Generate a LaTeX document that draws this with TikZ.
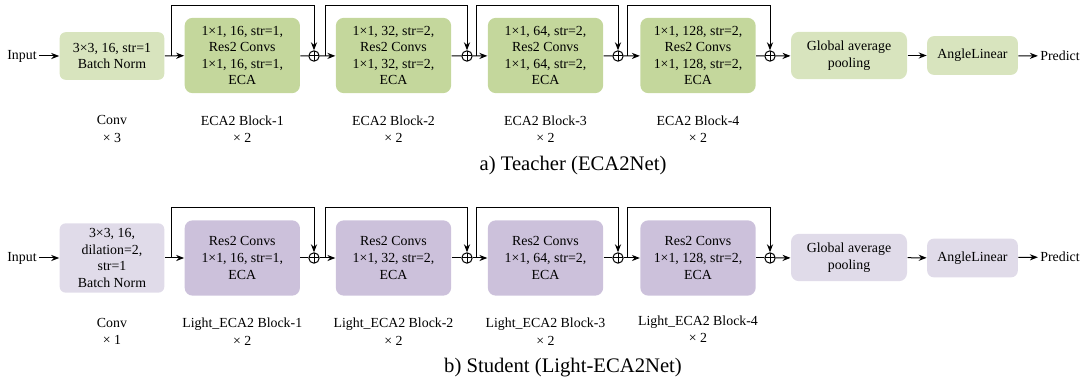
\documentclass[tikz,border=0pt]{standalone}
\usepackage{fontspec}
\setmainfont{Liberation Serif}
\usetikzlibrary{positioning,arrows.meta}

\definecolor{greenlight}{HTML}{D8E4BE}
\definecolor{greendark}{HTML}{C4D79C}
\definecolor{purplelight}{HTML}{E0DBE9}
\definecolor{purpledark}{HTML}{CCC1DB}

\begin{document}
\begin{tikzpicture}[x=0.75pt,y=-0.75pt,>={Stealth[length=6pt,width=4.6pt]},line width=0.75pt,
  txt/.style={font=\fontsize{10.4}{12.4}\selectfont, align=center, inner sep=0pt},
  io/.style={txt, inner sep=1.5pt},
  conv/.style={txt, rounded corners=4.5pt, minimum width=78.5pt},
  block/.style={txt, rounded corners=6pt, minimum width=86.5pt, minimum height=56.5pt},
  gap/.style={txt, rounded corners=6pt, minimum width=87pt, minimum height=35.5pt},
  angle/.style={txt, rounded corners=5pt, minimum width=68pt, minimum height=29pt},
  lbl/.style={font=\fontsize{10.4}{13.2}\selectfont, align=center, inner sep=0pt},
  caption/.style={font=\fontsize{15.5}{18}\selectfont, inner sep=0pt},
  sumnode/.style={circle, draw, inner sep=0pt, minimum size=7.8pt,
    path picture={\draw (path picture bounding box.north) -- (path picture bounding box.south)
      (path picture bounding box.west) -- (path picture bounding box.east);}}]
\useasboundingbox (0,0) rectangle (1083,381);

% teacher
\node (tin) [io] at (22,56) {Input};
\node (tconv) [conv, fill=greenlight, minimum height=35.7pt] at (112,56) {3×3, 16, str=1\\Batch Norm};
\node (tb1) [block, fill=greendark] at (242.3,55.5) {1×1, 16, str=1,\\Res2 Convs\\1×1, 16, str=1,\\ECA};
\node (tb2) [block, fill=greendark] at (393.5,55.5) {1×1, 32, str=2,\\Res2 Convs\\1×1, 32, str=2,\\ECA};
\node (tb3) [block, fill=greendark] at (545.5,55.5) {1×1, 64, str=2,\\Res2 Convs\\1×1, 64, str=2,\\ECA};
\node (tb4) [block, fill=greendark] at (698,55.5) {1×1, 128, str=2,\\Res2 Convs\\1×1, 128, str=2,\\ECA};
\node (tgap) [gap, fill=greenlight] at (849,55.5) {Global average\\pooling};
\node (tang) [angle, fill=greenlight] at (972.5,55.5) {AngleLinear};
\node (tout) [io] at (1060,56) {Predict};
\node (tp1) [sumnode] at (314,56) {};
\node (tp2) [sumnode] at (467,56) {};
\node (tp3) [sumnode] at (618,56) {};
\node (tp4) [sumnode] at (770,56) {};
\coordinate (ts1) at (171,56);
\coordinate (ts2) at (325,56);
\coordinate (ts3) at (476,56);
\coordinate (ts4) at (627,56);
\coordinate (tt1) at (171,6);
\coordinate (tt2) at (325,6);
\coordinate (tt3) at (476,6);
\coordinate (tt4) at (627,6);

\draw[->] (tin) -- (tconv);
\draw[->] (tconv) -- (tb1);
\draw (tb1) -- (tp1);
\draw[->] (tp1) -- (tb2);
\draw (tb2) -- (tp2);
\draw[->] (tp2) -- (tb3);
\draw (tb3) -- (tp3);
\draw[->] (tp3) -- (tb4);
\draw (tb4) -- (tp4);
\draw[->] (tp4) -- (tgap);
\draw[->] (tgap) -- (tang);
\draw[->] (tang) -- (tout);
\draw[->] (ts1) -- (tt1) -| (tp1.north);
\draw[->] (ts2) -- (tt2) -| (tp2.north);
\draw[->] (ts3) -- (tt3) -| (tp3.north);
\draw[->] (ts4) -- (tt4) -| (tp4.north);

\node (tl0) [lbl] at (112,129) {Conv\\× 3};
\node (tl1) [lbl] at (242.3,129) {ECA2 Block-1\\× 2};
\node (tl2) [lbl] at (393.5,129) {ECA2 Block-2\\× 2};
\node (tl3) [lbl] at (545.5,129) {ECA2 Block-3\\× 2};
\node (tl4) [lbl] at (698,129) {ECA2 Block-4\\× 2};
\node (tcap) [caption] at (573,166) {a) Teacher (ECA2Net)};

% student
\node (sin) [io] at (22,258) {Input};
\node (sconv) [conv, fill=purplelight, minimum height=52pt] at (112,258) {3×3, 16,\\dilation=2,\\str=1\\Batch Norm};
\node (sb1) [block, fill=purpledark] at (242.3,258) {Res2 Convs\\1×1, 16, str=1,\\ECA};
\node (sb2) [block, fill=purpledark] at (393.5,258) {Res2 Convs\\1×1, 32, str=2,\\ECA};
\node (sb3) [block, fill=purpledark] at (545.5,258) {Res2 Convs\\1×1, 64, str=2,\\ECA};
\node (sb4) [block, fill=purpledark] at (698,258) {Res2 Convs\\1×1, 128, str=2,\\ECA};
\node (sgap) [gap, fill=purplelight] at (849,257.5) {Global average\\pooling};
\node (sang) [angle, fill=purplelight] at (972.5,258) {AngleLinear};
\node (sout) [io] at (1060,257) {Predict};
\node (sp1) [sumnode] at (314,258) {};
\node (sp2) [sumnode] at (467,258) {};
\node (sp3) [sumnode] at (618,258) {};
\node (sp4) [sumnode] at (770,258) {};
\coordinate (ss1) at (171,258);
\coordinate (ss2) at (325,258);
\coordinate (ss3) at (476,258);
\coordinate (ss4) at (627,258);
\coordinate (st1) at (171,208);
\coordinate (st2) at (325,208);
\coordinate (st3) at (476,208);
\coordinate (st4) at (627,208);

\draw[->] (sin) -- (sconv);
\draw[->] (sconv) -- (sb1);
\draw (sb1) -- (sp1);
\draw[->] (sp1) -- (sb2);
\draw (sb2) -- (sp2);
\draw[->] (sp2) -- (sb3);
\draw (sb3) -- (sp3);
\draw[->] (sp3) -- (sb4);
\draw (sb4) -- (sp4);
\draw[->] (sp4) -- (sgap);
\draw[->] (sgap) -- (sang);
\draw[->] (sang) -- (sout);
\draw[->] (ss1) -- (st1) -| (sp1.north);
\draw[->] (ss2) -- (st2) -| (sp2.north);
\draw[->] (ss3) -- (st3) -| (sp3.north);
\draw[->] (ss4) -- (st4) -| (sp4.north);

\node (sl0) [lbl] at (112,331.5) {Conv\\× 1};
\node (sl1) [lbl] at (242.3,331.5) {Light\_ECA2 Block-1\\× 2};
\node (sl2) [lbl] at (393.5,331.5) {Light\_ECA2 Block-2\\× 2};
\node (sl3) [lbl] at (545.5,331.5) {Light\_ECA2 Block-3\\× 2};
\node (sl4) [lbl] at (698,329) {Light\_ECA2 Block-4\\× 2};
\node (scap) [caption] at (563,368) {b) Student (Light-ECA2Net)};
\end{tikzpicture}
\end{document}
